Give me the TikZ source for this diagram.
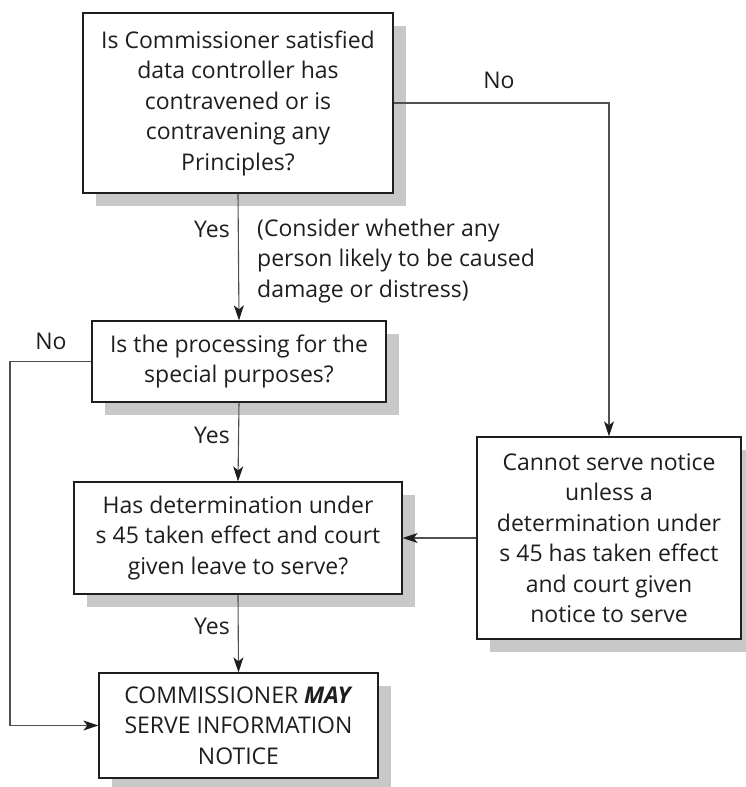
\documentclass[tikz,border=0pt]{standalone}
\usepackage{fontspec}
\setmainfont{Open Sans}
\usetikzlibrary{arrows.meta,shadows}

\definecolor{ink}{HTML}{1E1E1E}
\definecolor{wire}{HTML}{505050}
\definecolor{shade}{HTML}{C8C8C8}

\tikzset{
  box/.style={draw=ink, line width=1.3pt, fill=white, align=center,
    text=ink, inner sep=0pt,
    drop shadow={shadow xshift=13pt, shadow yshift=-13pt, fill=shade, opacity=1}},
  flow/.style={draw=wire, line width=1.1pt,
    -{Stealth[length=15pt,width=10pt,inset=4pt,color=ink]}},
  lbl/.style={text=ink, inner sep=0pt},
}

\begin{document}
\begin{tikzpicture}[x=1pt, y=-1pt, font=\fontsize{23}{30.5}\selectfont]
\useasboundingbox (0,0) rectangle (745,787);

% decision and outcome boxes
\node[box, minimum width=310pt, minimum height=180pt] (q1) at (238,103)
  {Is Commissioner satisfied\\data controller has\\contravened or is\\contravening any\\Principles?};
\node[box, minimum width=294pt, minimum height=81pt] (q2) at (239,361.5)
  {Is the processing for the\\special purposes?};
\node[box, minimum width=328pt, minimum height=112pt] (q3) at (238,538)
  {Has determination under\\s 45 taken effect and court\\given leave to serve?};
\node[box, minimum width=279pt, minimum height=105pt] (res) at (238.5,725.5)
  {COMMISSIONER \textbf{\textit{MAY}}\\SERVE INFORMATION\\NOTICE};
\node[box, minimum width=264pt, minimum height=202pt] (cant) at (609,538)
  {Cannot serve notice\\unless a\\determination under\\s 45 has taken effect\\and court given\\notice to serve};

% turning point of the left-hand "No" route
\coordinate (side) at (10,500);

% connectors
\draw[flow] (q1.east) -| (cant.north);
\draw[flow] (q1.south) -- (q2.north);
\draw[flow] (q2.south) -- (q3.north);
\draw[flow] (q3.south) -- (res.north);
\draw[flow] (cant.west) -- (q3.east);
\draw[flow] (q2.west) -| (side) |- (res.west);

% connector labels
\node[lbl] (no1) at (499,80) {No};
\node[lbl] (yes1) at (212,229) {Yes};
\node[lbl, align=left, anchor=west] (note) at (257,261)
  {(Consider whether any\\person likely to be caused\\damage or distress)};
\node[lbl] (no2) at (51,341) {No};
\node[lbl] (yes2) at (212,435) {Yes};
\node[lbl] (yes3) at (212,626) {Yes};
\end{tikzpicture}
\end{document}
